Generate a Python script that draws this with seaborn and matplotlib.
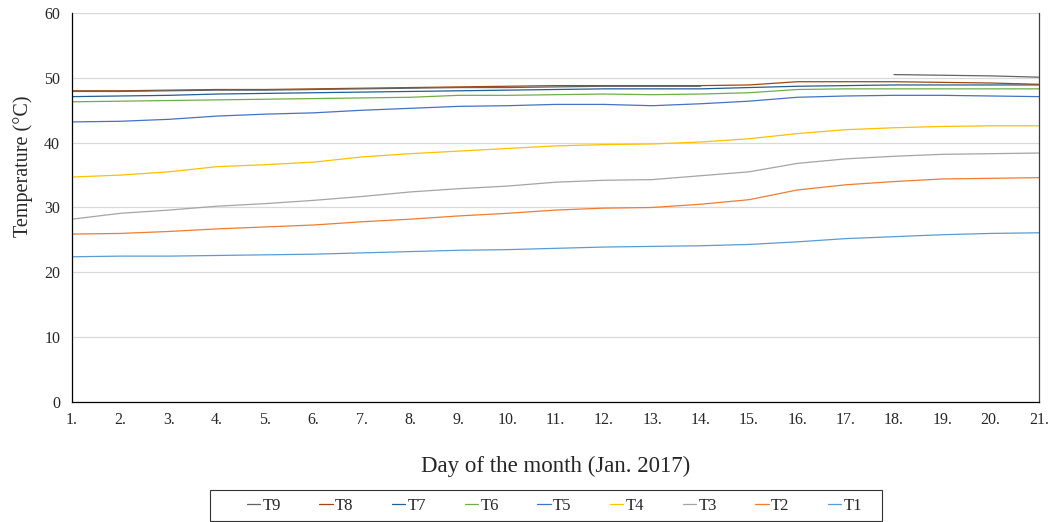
import numpy as np
import pandas as pd
import matplotlib.pyplot as plt
from matplotlib.lines import Line2D
from matplotlib.patches import Rectangle
import seaborn as sns

# ------------------------------------------
# Data
# ------------------------------------------
days = list(range(1, 22))

t1 = [22.4, 22.5, 22.5, 22.6, 22.7, 22.8, 23.0, 23.2, 23.4, 23.5, 23.7,
      23.9, 24.0, 24.1, 24.3, 24.7, 25.2, 25.5, 25.8, 26.0, 26.1]
t2 = [25.9, 26.0, 26.3, 26.7, 27.0, 27.3, 27.8, 28.2, 28.7, 29.1, 29.6,
      29.9, 30.0, 30.5, 31.2, 32.7, 33.5, 34.0, 34.4, 34.5, 34.6]
t3 = [28.2, 29.1, 29.6, 30.2, 30.6, 31.1, 31.7, 32.4, 32.9, 33.3, 33.9,
      34.2, 34.3, 34.9, 35.5, 36.8, 37.5, 37.9, 38.2, 38.3, 38.4]
t4 = [34.7, 35.0, 35.5, 36.3, 36.6, 37.0, 37.8, 38.3, 38.7, 39.1, 39.5,
      39.7, 39.8, 40.1, 40.6, 41.4, 42.0, 42.3, 42.5, 42.6, 42.6]
t5 = [43.2, 43.3, 43.6, 44.1, 44.4, 44.6, 45.0, 45.3, 45.6, 45.7, 45.9,
      45.9, 45.7, 46.0, 46.4, 47.0, 47.2, 47.3, 47.3, 47.2, 47.1]
t6 = [46.3, 46.4, 46.5, 46.6, 46.7, 46.8, 46.9, 47.0, 47.3, 47.3, 47.4,
      47.5, 47.4, 47.5, 47.7, 48.2, 48.3, 48.3, 48.3, 48.3, 48.3]
t7 = [47.1, 47.2, 47.3, 47.5, 47.6, 47.7, 47.8, 47.9, 48.0, 48.1, 48.2,
      48.3, 48.3, 48.3, 48.5, 48.7, 48.8, 48.9, 48.9, 48.9, 48.9]
t8 = [48.0, 48.0, 48.1, 48.2, 48.2, 48.3, 48.4, 48.5, 48.6, 48.7, 48.8,
      48.8, 48.8, 48.8, 48.9, 49.4, 49.4, 49.4, 49.3, 49.2, 49.0]
t9 = [47.9, 47.9, 48.0, 48.1, 48.1, 48.2, 48.3, 48.4, 48.5, 48.5, 48.6,
      48.7, 48.7, 48.7, np.nan, np.nan, np.nan, 50.5, 50.4, 50.3, 50.1]

sensors = ["T9", "T8", "T7", "T6", "T5", "T4", "T3", "T2", "T1"]
series = [t9, t8, t7, t6, t5, t4, t3, t2, t1]
colors = ["#636363", "#9e480e", "#255e91", "#70ad47", "#4472c4",
          "#ffc000", "#a5a5a5", "#ed7d31", "#5b9bd5"]

# long form, with a segment id so gaps (NaN) stay gaps
rows = []
for name, vals in zip(sensors, series):
    seg = 0
    for d, v in zip(days, vals):
        if np.isnan(v):
            seg += 1
            continue
        rows.append({"Day": d, "Temp": v, "Sensor": name, "Seg": seg})
df = pd.DataFrame(rows)

# ------------------------------------------
# Plot
# ------------------------------------------
sns.set_style("white")
plt.rcParams["font.family"] = ["Liberation Serif", "DejaVu Serif"]

fig = plt.figure(figsize=(10.49, 5.22), dpi=100)
ax = fig.add_axes([0.0686, 0.2299, 0.9219, 0.7452])

sns.lineplot(data=df, x="Day", y="Temp", hue="Sensor", units="Seg",
             estimator=None, sort=True, hue_order=sensors[::-1],
             palette=dict(zip(sensors, colors)), linewidth=0.9,
             legend=False, ax=ax)

ax.set_xlim(1, 21)
ax.set_ylim(0, 60)
ax.set_xticks(days)
ax.set_xticklabels([f"{d}." for d in days])
ax.set_yticks(range(0, 61, 10))
ax.yaxis.grid(True, color="#d9d9d9", linewidth=0.9)
ax.set_axisbelow(True)

for s in ["left", "bottom"]:
    ax.spines[s].set_color("black")
    ax.spines[s].set_linewidth(0.9)
ax.spines["right"].set_color("#404040")
ax.spines["right"].set_linewidth(0.9)
ax.spines["top"].set_visible(False)

ax.tick_params(axis="both", direction="out", length=3.5, width=0.8,
               color="#333333", labelsize=11.5)
ax.tick_params(axis="y", pad=5)

ax.set_xlabel("Day of the month (Jan. 2017)", fontsize=16.5, labelpad=20)
ax.set_ylabel("Temperature (°C)", fontsize=14.5)
ax.yaxis.set_label_coords(-0.040, 0.605)

# legend box drawn separately (Excel style, wide side margins)
fig.patches.append(Rectangle((0.2002, 0.002), 0.6406, 0.0594,
                             transform=fig.transFigure, fill=False,
                             edgecolor="#333333", linewidth=0.8))
handles = [Line2D([], [], color=c, linewidth=0.9) for c in colors]
leg = fig.legend(handles, sensors, ncol=9, loc="center",
                 bbox_to_anchor=(0.5286, 0.031), fontsize=12,
                 handlelength=0.8, handletextpad=0.15, columnspacing=2.3,
                 frameon=False)

fig.savefig("out.png", dpi=100)
